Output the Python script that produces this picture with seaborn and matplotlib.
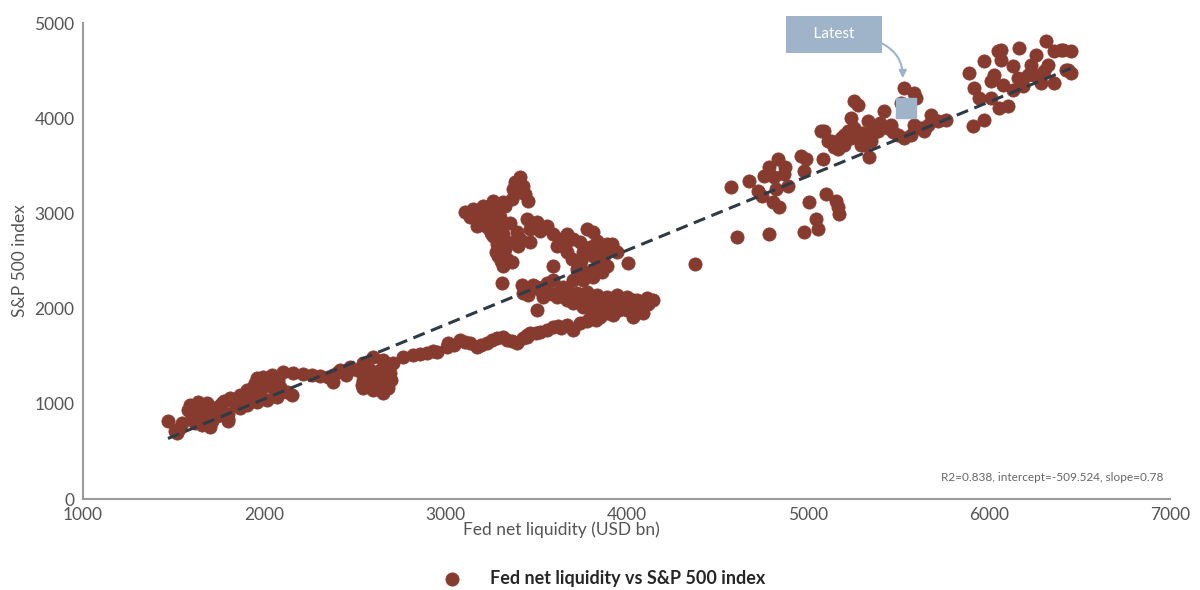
import pandas as pd
import seaborn as sns
import matplotlib.pyplot as plt
import numpy as np

sns.set_theme(style="white")
plt.rcParams['font.family'] = ['Lato', 'DejaVu Sans']

# Fed net liquidity (USD bn)
liquidity = [
    # 2009-2011 lower left
    1470, 1508, 1536, 1580, 1591, 1635, 1685, 1619, 1674, 1713, 1740, 1801, 1801, 1729, 1768,
    1812, 1867, 1906, 1939, 1961, 1994, 2044, 2017, 1978, 2050, 2088, 2127, 2155, 2072, 2017,
    1961, 1906, 1867, 2105, 2160, 2216, 2265, 2309, 2354, 2381, 1550, 1600, 1650, 1700, 1760,
    1840, 1900, 2000, 1660, 1700, 1620, 1519, 1801, 1640, 1690, 1750, 1780, 1850, 1930, 1950,
    2020, 2080, 2100,
    # 2400-2750 blob
    2420, 2475, 2514, 2547, 2602, 2657, 2713, 2696, 2641, 2586, 2547, 2602, 2657, 2547, 2602,
    2657, 2685, 2381, 2580, 2630, 2670, 2560, 2620, 2700, 2540, 2450, 2410,
    # band 2750-3500
    2768, 2823, 2901, 2956, 3011, 3017, 3083, 3138, 3177, 3232, 3287, 3343, 3398, 3453, 3470,
    2860, 2930, 3050, 3110, 3200, 3260, 3320, 3370, 3430,
    # lower band 3450-4100
    3453, 3525, 3597, 3674, 3746, 3801, 3856, 3928, 4006, 4078, 3707, 3560, 3640, 3780, 3830,
    3900, 3960, 4040, 3500, 3620,
    # dense cluster around 2000
    3674, 3729, 3784, 3840, 3895, 3950, 4006, 4061, 3707, 3762, 3818, 3873, 3928, 3984, 4039,
    3674, 3619, 3564, 3508, 3967, 4039, 4116, 4149, 4078, 4006, 3928, 4039, 4094, 3652, 3740,
    3800, 3860, 3900, 3960, 4000, 3590, 3700, 3850, 4120, 3780,
    # small cluster around 2200
    3425, 3431, 3486, 3525, 3564, 3597, 3541, 3619, 3459, 3315, 3508,
    # arc 2300-2950
    3453, 3508, 3564, 3525, 3597, 3635, 3674, 3707, 3746, 3784, 3818, 3840, 3895, 3923, 3762,
    3818, 3873, 3895, 3840, 3784, 3729, 3702, 3707, 3762, 3818, 3674, 3619, 3470, 3414, 3398,
    3403, 3470, 3923, 3895, 3873, 3867, 3597, 4011, 3540, 3660, 3800, 3850, 3750, 3950,
    # upper left blob and peak
    3110, 3155, 3210, 3265, 3320, 3370, 3138, 3193, 3249, 3304, 3177, 3232, 3287, 3265, 3320,
    3287, 3331, 3293, 3343, 3320, 3370, 3398, 3414, 3387, 3431, 3376, 3414, 3442, 3459, 3220,
    3340, 3360, 3250, 3150, 3200, 3280, 3240, 3300, 3200, 3330, 3280, 3310,
    # isolated
    4381,
    # 4600-5200
    4613, 4785, 4978, 5055, 5044, 5171, 5166, 5155, 5100, 5006, 4840, 4807, 4575, 4674, 4724,
    4751, 4823, 4890, 4757, 4812, 4867, 4834, 4785, 4878, 4989, 4978, 5083,
    # 5050-5750
    5089, 5127, 5166, 5199, 5238, 5254, 5276, 5238, 5293, 5337, 5348, 5387, 5332, 5420, 5459,
    5497, 5530, 5569, 5624, 5680, 5663, 5718, 5530, 5586, 5514, 5072, 4961, 5111, 5144, 5182,
    5221, 5254, 5309, 5442, 5586, 5641, 5597, 5762, 5300, 5360, 5400, 5470, 5280, 5200, 5350,
    # 5850-6460
    5890, 5917, 5912, 5972, 5945, 6011, 6055, 6105, 6077, 6028, 5972, 6066, 6066, 6166, 6133,
    6160, 6188, 6133, 6260, 6232, 6249, 6287, 6326, 6315, 6359, 6409, 6453, 6437, 6359, 6304,
    6050, 6011, 6215, 6398, 6426, 6453,
]

# S&P 500 index level, same order
spx = [
    825, 720, 751, 931, 984, 1016, 1005, 857, 804, 825, 878, 899, 825, 952, 1005,
    1058, 1090, 1143, 1174, 1270, 1280, 1301, 1196, 1121, 1164, 1174, 1121, 1090, 1068, 1037,
    1016, 984, 952, 1333, 1322, 1312, 1301, 1291, 1280, 1227, 800, 880, 950, 900, 940,
    1000, 1050, 1220, 780, 760, 800, 698, 846, 900, 850, 980, 1030, 1040, 1100, 1220,
    1260, 1250, 1120,
    1354, 1386, 1354, 1428, 1492, 1460, 1428, 1322, 1354, 1354, 1248, 1227, 1217, 1164, 1143,
    1111, 1164, 1301, 1290, 1300, 1400, 1310, 1180, 1250, 1200, 1300, 1330,
    1492, 1513, 1534, 1545, 1598, 1640, 1672, 1640, 1598, 1640, 1693, 1672, 1640, 1704, 1746,
    1520, 1560, 1620, 1650, 1620, 1670, 1700, 1660, 1690,
    1725, 1756, 1809, 1830, 1851, 1904, 1915, 1989, 2021, 2063, 1777, 1780, 1800, 1870, 1880,
    1950, 1990, 2040, 1740, 1820,
    2200, 2169, 2180, 2148, 2127, 2148, 2127, 2095, 2063, 2021, 2010, 1989, 2063, 2021, 1957,
    2095, 2127, 2180, 2232, 2116, 2095, 2116, 2095, 2021, 1989, 1936, 1915, 1957, 2232, 2100,
    2080, 2060, 2000, 2070, 2080, 2150, 2140, 2100, 2050, 2120,
    2254, 2169, 2254, 2201, 2275, 2306, 2127, 2169, 2148, 2275, 1989,
    2941, 2910, 2867, 2814, 2783, 2730, 2783, 2730, 2698, 2836, 2804, 2709, 2677, 2656, 2592,
    2550, 2518, 2444, 2412, 2381, 2412, 2518, 2306, 2306, 2338, 2592, 2656, 2836, 2730, 2804,
    2656, 2698, 2677, 2592, 2486, 2381, 2444, 2476, 2850, 2660, 2650, 2600, 2500, 2600,
    3015, 3047, 3079, 3132, 3121, 3153, 2962, 2941, 2973, 2962, 2867, 2857, 2867, 2761, 2783,
    2677, 2624, 2550, 2518, 2444, 2486, 2730, 3386, 3333, 3290, 3259, 3227, 3206, 3132, 2920,
    2700, 2900, 2800, 2990, 3000, 3050, 2920, 2820, 2900, 3080, 2600, 2500,
    2465,
    2751, 2783, 2804, 2836, 2941, 2994, 3068, 3132, 3206, 3121, 3068, 3121, 3280, 3343, 3237,
    3185, 3259, 3290, 3396, 3386, 3417, 3576, 3491, 3491, 3576, 3449, 3576,
    3862, 3756, 3682, 3714, 3788, 3893, 4137, 4000, 3714, 3597, 3756, 3862, 3968, 4074, 3926,
    3820, 3788, 3820, 3893, 4031, 3926, 3968, 4317, 4264, 4158, 3862, 3608, 3756, 3703, 3788,
    3862, 4179, 3714, 3893, 3926, 3862, 4211, 3978, 3850, 3900, 3950, 3860, 3800, 3820, 3800,
    4475, 4317, 3915, 3978, 4211, 4211, 4105, 4126, 4349, 4454, 4602, 4613, 4719, 4740, 4549,
    4422, 4338, 4296, 4666, 4560, 4454, 4370, 4560, 4814, 4708, 4719, 4708, 4507, 4370, 4497,
    4708, 4391, 4454, 4719, 4507, 4480,
]

latest_x = [5541]
latest_y = [4105]

r2 = 0.838
intercept = -509.524
slope = 0.78

series_label = "Fed net liquidity vs S&P 500 index"

df = pd.DataFrame({"liq": liquidity, "spx": spx})

fig = plt.figure(figsize=(12, 5.9), dpi=100)
ax = fig.add_axes([0.069, 0.154, 0.906, 0.807])

dot_color = "#873b2f"
sns.scatterplot(data=df, x="liq", y="spx", ax=ax, color=dot_color, s=90,
                edgecolor=dot_color, linewidth=0.6, label=series_label, zorder=2)

# fitted line from the stated regression
fit_x = np.array([df["liq"].min(), df["liq"].max()])
fit_y = intercept + slope * fit_x
ax.plot(fit_x, fit_y, linestyle=(0, (4, 2.2)), color="#2e3a44", lw=2.2, zorder=3)

# latest observation
ax.scatter(latest_x, latest_y, marker="s", s=190, color="#9fb3c9", zorder=4)
ax.annotate("    Latest    ", xy=(5525, 4420), xytext=(5144, 4880),
            ha="center", va="center", color="white", fontsize=11,
            bbox=dict(boxstyle="square,pad=0.78", fc="#9fb3c9", ec="none"),
            arrowprops=dict(arrowstyle="-|>", color="#9fb3c9", lw=1.5,
                            connectionstyle="angle3,angleA=0,angleB=90",
                            shrinkA=0, shrinkB=0),
            zorder=5)

ax.text(0.994, 0.046, f"R2={r2}, intercept={intercept}, slope={slope}",
        transform=ax.transAxes, ha="right", va="center", fontsize=8.5, color="#666666")

ax.set_xlim(1000, 7000)
ax.set_ylim(0, 5000)
ax.set_xticks(range(1000, 7001, 1000))
ax.set_yticks(range(0, 5001, 1000))
ax.tick_params(axis="both", length=0, labelsize=12.5, labelcolor="#555555", pad=6)
ax.set_xlabel("Fed net liquidity (USD bn)", fontsize=12.5, color="#555555")
ax.set_ylabel("S&P 500 index", fontsize=12.5, color="#555555")
ax.xaxis.set_label_coords(0.44, -0.047)
ax.yaxis.set_label_coords(-0.05, 0.5)

for side in ["top", "right"]:
    ax.spines[side].set_visible(False)
for side in ["left", "bottom"]:
    ax.spines[side].set_color("#9a9a9a")
    ax.spines[side].set_linewidth(1.5)

ax.get_legend().remove()
handles, labels = ax.get_legend_handles_labels()
leg = fig.legend(handles, labels, loc="center", bbox_to_anchor=(0.5, 0.02),
                 frameon=False, prop={"weight": "bold", "size": 13}, handletextpad=1.1)

plt.savefig("out.png", dpi=100)
